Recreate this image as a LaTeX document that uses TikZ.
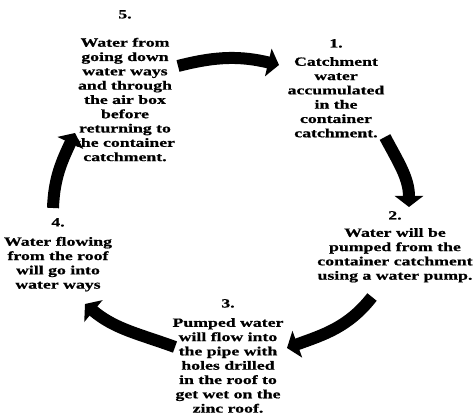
\documentclass[tikz,border=0pt]{standalone}
\usepackage{fontspec}
\newfontfamily\cyclefont{Liberation Serif}[FakeStretch=1.42, FakeBold=0.8]
\usetikzlibrary{arrows.meta}

\begin{document}
\begin{tikzpicture}[x=1pt, y=1pt,
        every node/.style={align=center, inner sep=0pt, anchor=north,
            font=\cyclefont\bfseries\fontsize{12.5}{14.3}\selectfont},
        flow/.style={line width=12pt,
            -{Triangle[width=28pt, length=11pt]}}
    ]
        \useasboundingbox (0,0) rectangle (475,-417);

        \node (n5) at (125,-10) {5.\\[14pt] Water from\\ going down\\ water ways\\ and through\\ the air box\\ before\\ returning to\\ the container\\ catchment.};
        \node (n1) at (336,-39) {1.\\[4pt] Catchment\\ water\\ accumulated\\ in the\\ container\\ catchment.};
        \node (n2) at (395,-211) {2.\\[3pt] Water will be\\ pumped from the\\ container catchment\\ using a water pump.};
        \node (n3) at (228,-299) {3.\\[5pt] Pumped water\\ will flow into\\ the pipe with\\ holes drilled\\ in the roof to\\ get wet on the\\ zinc roof.};
        \node (n4) at (58,-218) {4.\\[5pt] Water flowing\\ from the roof\\ will go into\\ water ways};

        % arrow ends
        \coordinate (t51) at (178,-66);  \coordinate (h51) at (279,-65);
        \coordinate (t12) at (385,-137); \coordinate (h12) at (409,-207);
        \coordinate (t23) at (372,-297); \coordinate (h23) at (287,-348);
        \coordinate (t34) at (175,-347); \coordinate (h34) at (85,-304);
        \coordinate (t45) at (53,-208);  \coordinate (h45) at (75,-133);

        \draw[flow] (t51) to[bend left=14] (h51);
        \draw[flow] (t12) to[out=-62, in=90] (h12);
        \draw[flow] (t23) to[out=-128, in=20] (h23);
        \draw[flow] (t34) to[out=160, in=-40] (h34);
        \draw[flow] (t45) to[out=88, in=-115] (h45);
    \end{tikzpicture}
\end{document}
